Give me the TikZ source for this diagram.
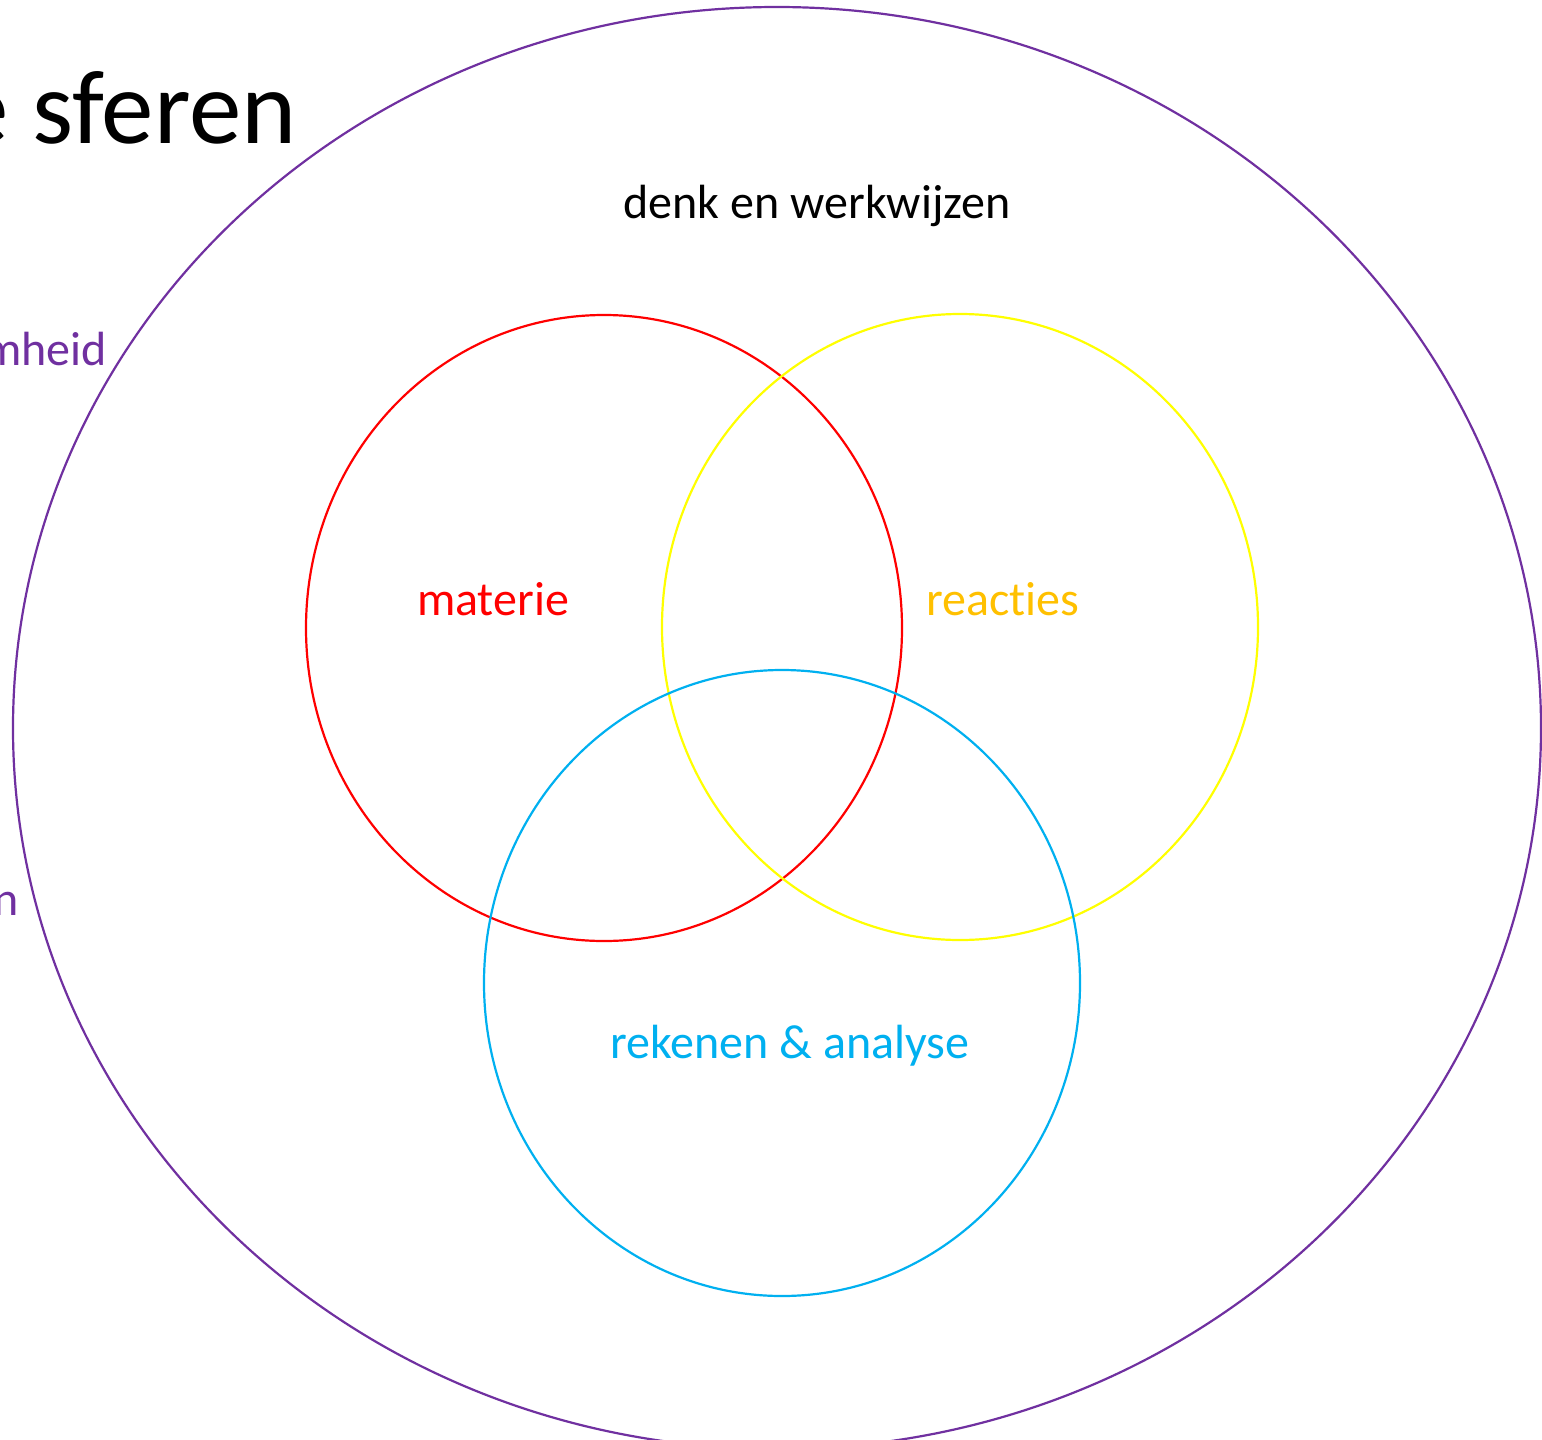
\documentclass[tikz,border=0pt]{standalone}
\usepackage{fontspec}
\setmainfont{Carlito}[Ligatures={NoCommon}]
\definecolor{vpurple}{HTML}{7030A0}
\definecolor{vred}{HTML}{FF0000}
\definecolor{vyellow}{HTML}{FFFF00}
\definecolor{vgold}{HTML}{FFC000}
\definecolor{vblue}{HTML}{00B0F0}
\begin{document}
\begin{tikzpicture}[x=1pt,y=-1pt,
  ring/.style={line width=2.2pt},
  lbl/.style={font=\fontsize{48}{56}\selectfont, inner sep=0pt, anchor=base}]
\clip (0,0) rectangle (1542,1440);
\fill[white] (0,0) rectangle (1542,1440);
% outer sphere
\draw[ring, vpurple] (777,728) ellipse [x radius=764, y radius=721];
% three circles
\draw[ring, vred] (604,628) ellipse [x radius=298, y radius=313];
\draw[ring, vyellow] (960,627) ellipse [x radius=298, y radius=313];
\draw[ring, vblue] (782,983) ellipse [x radius=298, y radius=313];
% labels
\node[lbl, anchor=base east, font=\fontsize{105}{120}\selectfont] (title) at (297,143) {e sferen};
\node[lbl] (denk) at (817,218) {denk en werkwijzen};
\node[lbl, text=vred] (materie) at (493,615) {materie};
\node[lbl, text=vgold] (reacties) at (1003,615) {reacties};
\node[lbl, text=vblue] (rekenen) at (790,1058) {rekenen \& analyse};
\node[lbl, anchor=base east, text=vpurple] (mheid) at (107,365) {mheid};
\node[lbl, anchor=base east, text=vpurple] (nn) at (19,915) {n};
\end{tikzpicture}
\end{document}
